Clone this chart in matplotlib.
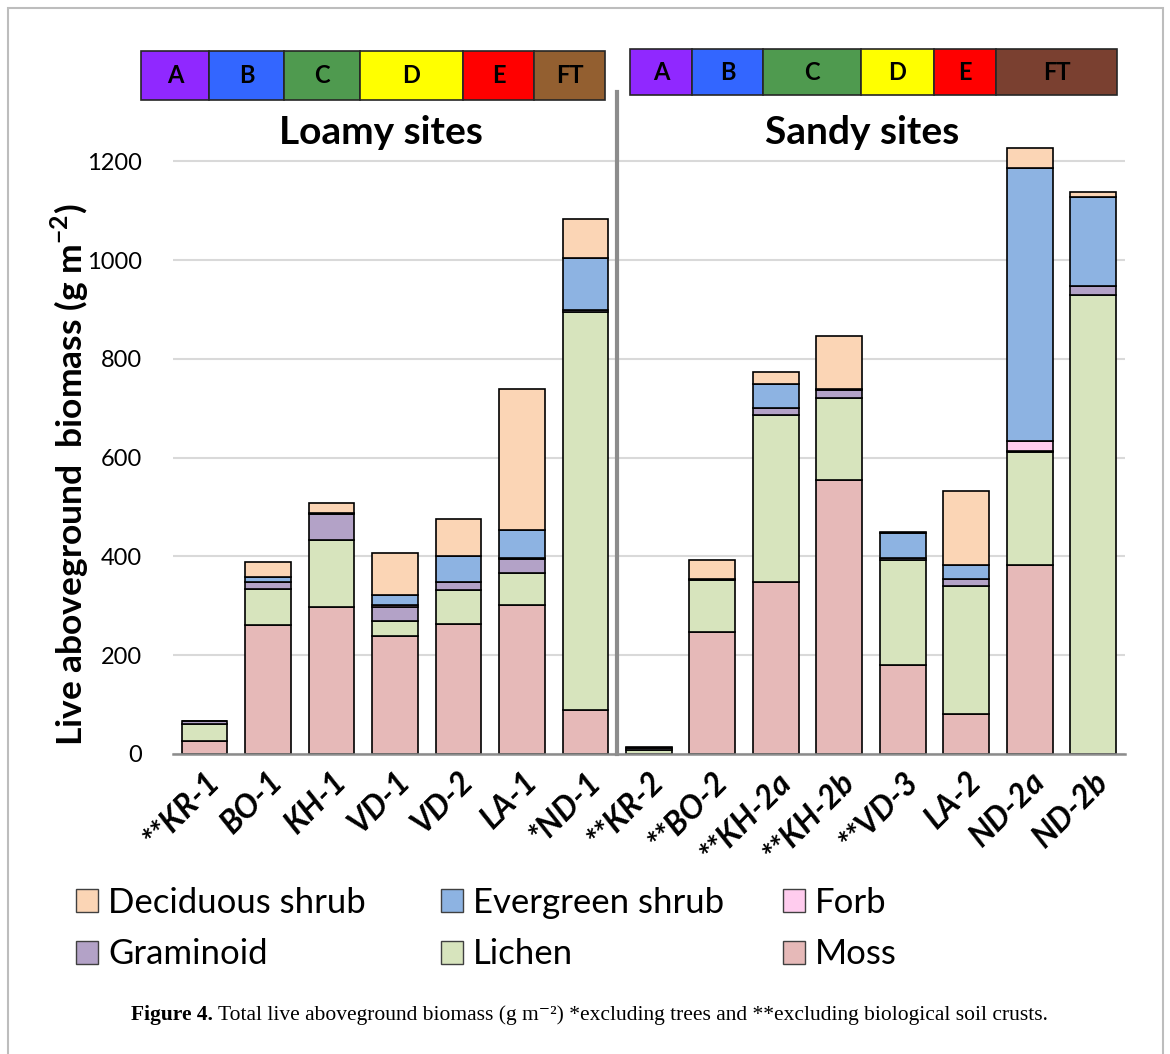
import sys
import numpy as np
from matplotlib import pyplot as plt
from matplotlib.patches import Patch, Rectangle

# site order: loamy first, then sandy
sites = ["**KR-1", "BO-1", "KH-1", "VD-1", "VD-2", "LA-1", "*ND-1",
         "**KR-2", "**BO-2", "**KH-2a", "**KH-2b", "**VD-3", "LA-2", "ND-2a", "ND-2b"]

# biomass per functional group (g m-2)
moss = [26, 261, 297, 238, 264, 302, 90, 0, 248, 348, 554, 180, 81, 383, 0]
lichen = [34, 74, 136, 32, 69, 65, 806, 9, 104, 339, 166, 212, 260, 228, 930]
graminoid = [6, 13, 53, 28, 16, 27, 3, 3, 2, 13, 17, 4, 14, 3, 17]
forb = [1, 0, 0, 3, 0, 3, 0, 0, 0, 0, 0, 0, 0, 19, 0]
evergreen = [0, 11, 2, 20, 51, 56, 106, 3, 0, 50, 2, 52, 27, 553, 180]
deciduous = [0, 30, 21, 85, 75, 286, 78, 0, 39, 23, 107, 2, 150, 42, 11]

groups = ["Moss", "Lichen", "Graminoid", "Forb", "Evergreen shrub", "Deciduous shrub"]
group_colors = ["#E6B9B8", "#D7E4BD", "#B3A2C7", "#FFCCEE", "#8DB3E2", "#FBD5B5"]

zone_labels = ["A", "B", "C", "D", "E", "FT"]
loamy_zone_colors = ["#9028FF", "#3366FF", "#4F9A4F", "#FFFF00", "#FF0000", "#935F30"]
sandy_zone_colors = ["#9028FF", "#3366FF", "#4F9A4F", "#FFFF00", "#FF0000", "#7A4030"]
# zone box edges in pixels (left edges + final right edge), these are just layout
loamy_zone_edges = [141, 209, 284, 360, 463, 534, 605]
sandy_zone_edges = [630, 692, 763, 861, 934, 996, 1117]

W, H = 1170, 1054
FONT = "Lato"


def fx(px):
    return px / W


def fy(py):
    return 1 - py / H


def zone_strip(fig, edges, colors, top, bottom):
    for i, lab in enumerate(zone_labels):
        x0, x1 = edges[i], edges[i + 1]
        fig.patches.append(Rectangle((fx(x0), fy(bottom)), fx(x1) - fx(x0), fy(top) - fy(bottom),
                                     transform=fig.transFigure, facecolor=colors[i],
                                     edgecolor="#262626", linewidth=1.2))
        fig.text(fx((x0 + x1) / 2), fy((top + bottom) / 2), lab, ha="center", va="center",
                 fontsize=17, weight="bold", family=FONT)


def main():
    plt.rcParams["font.family"] = [FONT, "DejaVu Sans"]
    plt.rcParams["mathtext.fontset"] = "custom"
    plt.rcParams["mathtext.rm"] = FONT
    plt.rcParams["mathtext.bf"] = FONT + ":bold"

    fig = plt.figure(figsize=(W / 100, H / 100), dpi=100)
    ax = fig.add_axes([fx(172.7), fy(754), fx(1125) - fx(172.7), fy(112) - fy(754)])

    x = np.arange(len(sites))
    series = [moss, lichen, graminoid, forb, evergreen, deciduous]
    bottom = np.zeros(len(sites))
    for vals, name, col in zip(series, groups, group_colors):
        vals = np.array(vals, dtype=float)
        lw = [1.2 if v > 0 else 0 for v in vals]
        ax.bar(x, vals, 0.72, bottom=bottom, color=col, edgecolor="black", linewidth=lw,
               label=name, zorder=3)
        bottom += vals

    ax.set_xlim(-0.5, len(sites) - 0.5)
    ax.set_ylim(0, 1300)
    ax.set_yticks(range(0, 1201, 200))
    ax.yaxis.grid(True, color="#D9D9D9", linewidth=1.5, zorder=0)
    ax.tick_params(axis="y", length=0, pad=22, labelsize=17)
    ax.tick_params(axis="x", length=0, pad=9)
    ax.set_xticks(x)
    ax.set_xticklabels(sites, rotation=45, ha="right", va="top", rotation_mode="anchor",
                       fontsize=23, weight="bold", style="italic")
    for s in ["top", "right", "left"]:
        ax.spines[s].set_visible(False)
    ax.spines["bottom"].set_color("#8C8C8C")
    ax.spines["bottom"].set_linewidth(1.8)
    ax.spines["bottom"].set_zorder(4)

    # divider between loamy and sandy sites
    ax.plot([6.5, 6.5], [0, 1341], color="#8C8C8C", linewidth=3, clip_on=False, zorder=5)

    ax.text(2.78, 1258, "Loamy sites", ha="center", va="center", fontsize=28, weight="bold")
    ax.text(10.36, 1258, "Sandy sites", ha="center", va="center", fontsize=28, weight="bold")

    fig.text(fx(70), fy(475), "Live aboveground  biomass (g m$^{\\mathbf{-2}}$)", rotation=90,
             ha="center", va="center", fontsize=25.5, weight="bold")

    zone_strip(fig, loamy_zone_edges, loamy_zone_colors, 51, 100)
    zone_strip(fig, sandy_zone_edges, sandy_zone_colors, 49, 95)

    # legend, three columns placed separately
    handles = {n: Patch(facecolor=c, edgecolor="#404040", linewidth=1.0)
               for n, c in zip(groups, group_colors)}
    columns = [(78, ["Deciduous shrub", "Graminoid"]),
               (443, ["Evergreen shrub", "Lichen"]),
               (785, ["Forb", "Moss"])]
    for xpx, names in columns:
        fig.legend([handles[n] for n in names], names, loc="upper left",
                   bbox_to_anchor=(fx(xpx - 2), fy(887)), frameon=False, fontsize=25,
                   handlelength=0.63, handleheight=0.63, handletextpad=0.3,
                   labelspacing=0.56, borderpad=0, borderaxespad=0)

    # caption
    cap_y = fy(1015)
    t1 = fig.text(fx(131), cap_y, "Figure 4.", ha="left", va="center", fontsize=15.5,
                  weight="bold", family=["Liberation Serif", "DejaVu Serif"])
    fig.canvas.draw()
    bb = t1.get_window_extent()
    fig.text((bb.x1 + 5) / W, cap_y,
             "Total live aboveground biomass (g m\u207B\u00B2) *excluding trees and **excluding biological soil crusts.",
             ha="left", va="center", fontsize=15.5, family=["Liberation Serif", "DejaVu Serif"])

    # page frame
    fig.patches.append(Rectangle((fx(8), -0.05), fx(1163) - fx(8), fy(8) + 0.05,
                                 transform=fig.transFigure, facecolor="none",
                                 edgecolor="#BDBDBD", linewidth=1.5))

    fig.savefig("out.png", dpi=100)
    return 0


if __name__ == "__main__":
    sys.exit(main())
